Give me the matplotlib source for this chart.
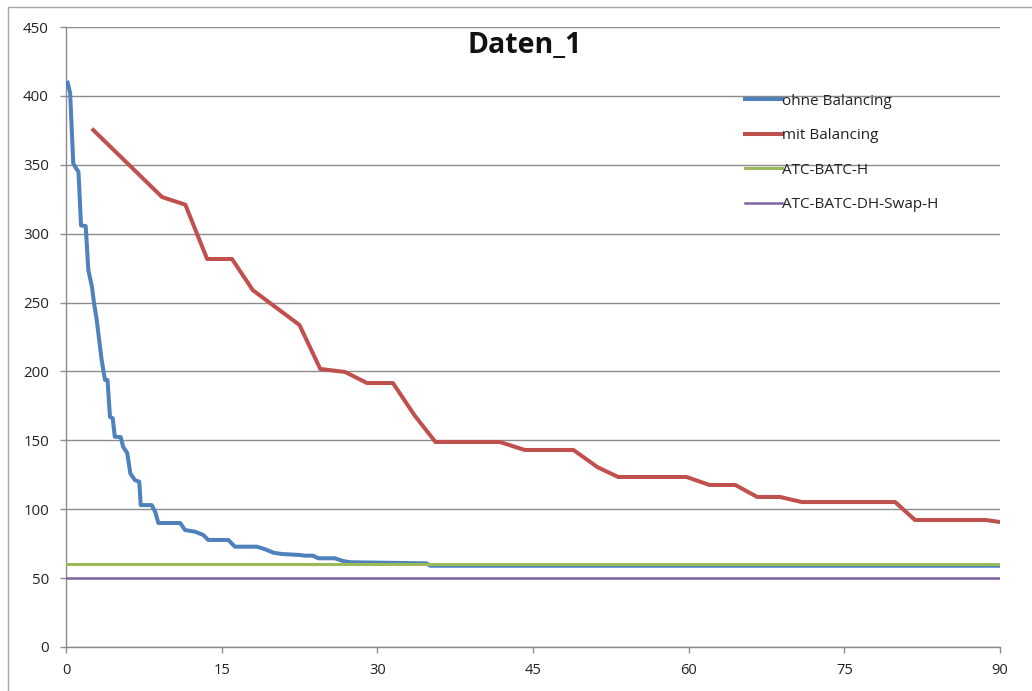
import matplotlib
matplotlib.use("Agg")
import matplotlib.pyplot as plt
from matplotlib.patches import Rectangle

# ---- data ----
ohne_x = [0.16, 0.4, 0.7, 1.0, 1.2, 1.45, 1.9, 2.15, 2.5, 2.7, 2.95, 3.44, 3.76, 4.0,
          4.24, 4.5, 4.7, 5.27, 5.5, 5.9, 6.2, 6.65, 7.06, 7.2, 8.25, 8.6, 8.9, 11.0,
          11.47, 12.43, 13.23, 13.7, 15.64, 16.28, 18.4, 19.2, 20.0, 20.8, 22.5, 23.0,
          23.8, 24.3, 25.9, 26.7, 27.4, 34.75, 35.1, 90.0]
ohne_y = [409.6, 402, 351, 347, 345, 306, 305.5, 273.6, 261.5, 249.6, 238, 208, 193.8, 193.8,
          167, 166, 152.6, 152.4, 145.4, 140.8, 126, 121, 120, 103, 103, 98, 90, 90,
          84.9, 83.7, 81.3, 77.7, 77.7, 72.8, 72.8, 70.9, 68.4, 67.5, 66.8, 66.3,
          66.3, 64.4, 64.4, 62.4, 61.5, 60.7, 59.0, 59.0]

mit_x = [2.63, 9.25, 11.5, 13.6, 16.0, 18.0, 22.5, 24.5, 26.9, 29.0, 31.5, 33.6, 35.6,
         41.8, 44.2, 48.9, 51.2, 53.2, 59.8, 62.0, 64.5, 66.6, 68.8, 70.9, 79.9, 81.8,
         88.6, 90.0]
mit_y = [375.2, 326.6, 321, 281.6, 281.6, 259, 233.7, 201.8, 199.6, 191.6, 191.6, 168, 148.8,
         148.8, 143, 143, 130.6, 123.4, 123.4, 117.6, 117.6, 108.9, 108.9, 105.2, 105.2, 92.2,
         92.2, 90.7]

atc_x = [0, 90]
atc_y = [60, 60]
swap_x = [0, 90]
swap_y = [50, 50]

labels = ["ohne Balancing", "mit Balancing", "ATC-BATC-H", "ATC-BATC-DH-Swap-H"]
colors = ["#4F81BD", "#C0504D", "#9BBB59", "#8064A2"]
xticks = [0, 15, 30, 45, 60, 75, 90]
yticks = [0, 50, 100, 150, 200, 250, 300, 350, 400, 450]
title = "Daten_1"

W, H = 1032, 691
fig = plt.figure(figsize=(W / 100, H / 100), dpi=100)
fig.patch.set_facecolor("white")
ax = fig.add_axes([66 / W, 1 - 647 / H, (1000 - 66) / W, (647 - 27) / H])

ax.plot(ohne_x, ohne_y, color=colors[0], lw=2.9, label=labels[0], solid_joinstyle="round", zorder=3)
ax.plot(mit_x, mit_y, color=colors[1], lw=2.9, label=labels[1], solid_joinstyle="round", zorder=4)
ax.plot(atc_x, atc_y, color=colors[2], lw=2.2, label=labels[2], zorder=5)
ax.plot(swap_x, swap_y, color=colors[3], lw=1.8, label=labels[3], zorder=6)

ax.set_xlim(0, 90)
ax.set_ylim(0, 450)
ax.set_xticks(xticks)
ax.set_yticks(yticks)
ax.yaxis.grid(True, color="#8c8c8c", lw=1.0)
ax.set_axisbelow(True)
for s in ["top", "right"]:
    ax.spines[s].set_visible(False)
for s in ["left", "bottom"]:
    ax.spines[s].set_color("#8c8c8c")
    ax.spines[s].set_linewidth(1.0)
ax.tick_params(axis="both", direction="out", length=4.3, width=1.0, color="#8c8c8c")
ax.tick_params(axis="y", pad=8.0)
ax.tick_params(axis="x", pad=7.5)
for t in ax.get_yticklabels():
    t.set_fontfamily(["Open Sans", "DejaVu Sans"])
    t.set_fontsize(10.8)
    t.set_color("#222222")
for t in ax.get_xticklabels():
    t.set_fontfamily(["Open Sans", "DejaVu Sans"])
    t.set_fontsize(10.5)
    t.set_color("#222222")

leg = ax.legend(loc="upper left", bbox_to_anchor=((745 - 66) / 934, (647 - 93.5) / 620),
                frameon=False, handlelength=2.4, handletextpad=0.05, labelspacing=1.28,
                prop={"family": ["Open Sans", "DejaVu Sans"], "size": 11},
                borderaxespad=0, borderpad=0)
for t in leg.get_texts():
    t.set_color("#222222")

fig.text(525 / W, 1 - 45 / H, title, ha="center", va="center",
         fontsize=20.5, fontweight="bold", family=["Open Sans", "DejaVu Sans"], color="#111111")

fig.patches.append(Rectangle((8 / W, -0.05), 1.2, 1 - 7 / H + 0.05, transform=fig.transFigure,
                             fill=False, edgecolor="#a6a6a6", lw=1.0))

fig.savefig("out.png", dpi=100)
